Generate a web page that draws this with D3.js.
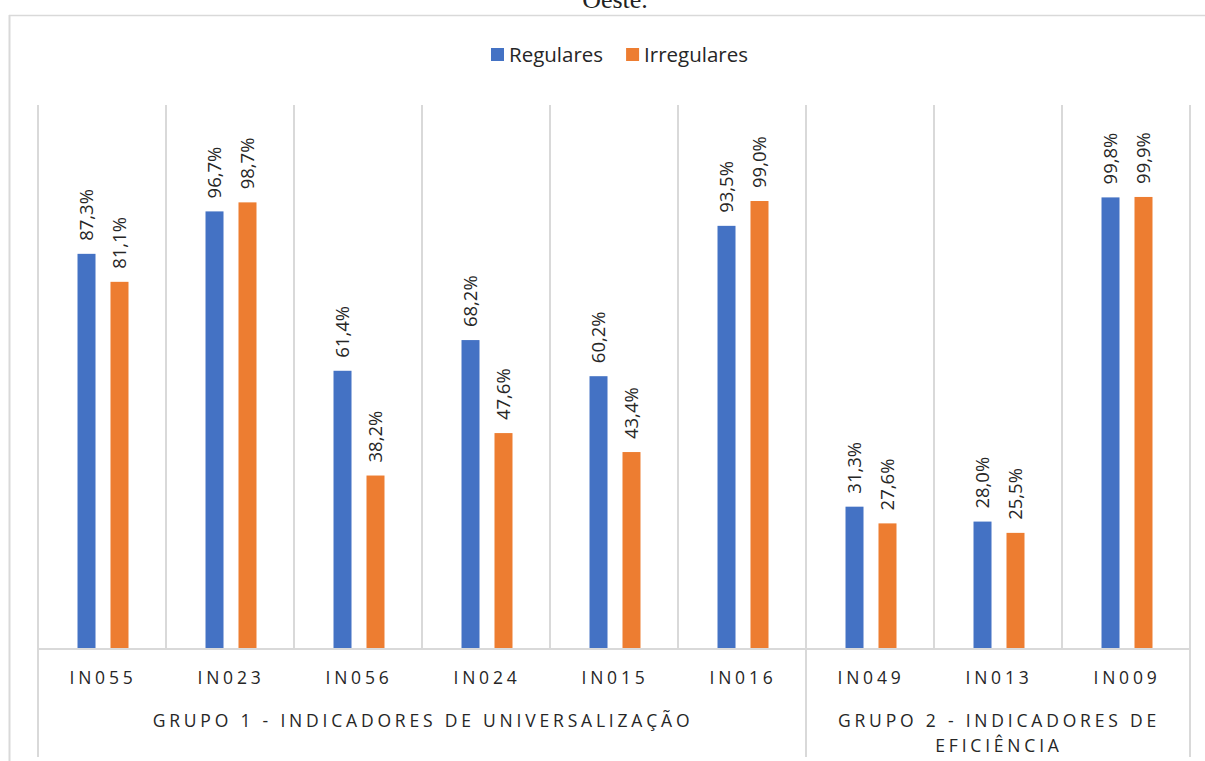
<!DOCTYPE html>
<html lang="pt-BR">
<head>
<meta charset="utf-8">
<title>Indicadores – Regulares x Irregulares</title>
<script src="https://cdn.jsdelivr.net/npm/d3@7/dist/d3.min.js"></script>
<style>
  html, body { margin: 0; padding: 0; background: #fff; }
  svg { display: block; }
</style>
</head>
<body>
<div id="chart"></div>
<script>
// Indicator codes along the category axis
const categories = ['IN055', 'IN023', 'IN056', 'IN024', 'IN015', 'IN016', 'IN049', 'IN013', 'IN009'];

// Series names and values (%)
const seriesNames = ['Regulares', 'Irregulares'];
const regulares   = [87.3, 96.7, 61.4, 68.2, 60.2, 93.5, 31.3, 28.0, 99.8];
const irregulares = [81.1, 98.7, 38.2, 47.6, 43.4, 99.0, 27.6, 25.5, 99.9];

// Category groups: how many indicators each one spans, and its label lines
const groupSizes  = [6, 3];
const groupLabels = [
  ['GRUPO 1 - INDICADORES DE UNIVERSALIZAÇÃO'],
  ['GRUPO 2 - INDICADORES DE', 'EFICIÊNCIA']
];

const captionTail = 'Oeste.';

// ---------------------------------------------------------------------------
const W = 1205, H = 761;
const plot = { left: 39, right: 1191, top: 105, bottom: 648 };
const colors = { Regulares: '#4472C4', Irregulares: '#ED7D31' };
const grid = '#d9d9d9';
const textColor = '#262626';
const uiFont = '"Open Sans", "Noto Sans", sans-serif';

const ptBR = d3.formatLocale({ decimal: ',', thousands: '.', grouping: [3], currency: ['R$', ''] });
const fmt = v => ptBR.format('.1f')(v) + '%';

const rows = categories.map((c, i) => ({ cat: c, Regulares: regulares[i], Irregulares: irregulares[i] }));

const svg = d3.select('#chart').append('svg')
  .attr('width', W).attr('height', H)
  .attr('viewBox', `0 0 ${W} ${H}`);

// caption line above the chart frame (cut by the page top)
svg.append('text')
  .attr('x', 615).attr('y', 8)
  .attr('text-anchor', 'middle')
  .attr('font-family', '"Liberation Serif", "Times New Roman", serif')
  .attr('font-size', 26)
  .attr('fill', '#222')
  .text(captionTail);

// chart frame
svg.append('line').attr('x1', 9).attr('x2', W).attr('y1', 15.5).attr('y2', 15.5)
  .attr('stroke', grid).attr('stroke-width', 1.5);
svg.append('line').attr('x1', 9.5).attr('x2', 9.5).attr('y1', 15).attr('y2', H)
  .attr('stroke', grid).attr('stroke-width', 2);

// scales
const x0 = d3.scaleBand().domain(categories).range([plot.left, plot.right]).padding(0);
const x1 = d3.scaleBand().domain(seriesNames).range([0, x0.bandwidth()])
  .paddingInner(0.4545).paddingOuter(1.167);
const y = d3.scaleLinear().domain([0, 100]).range([plot.bottom, 196.5]);

// vertical gridlines at category boundaries
const boundaries = categories.map(c => x0(c)).concat([plot.right]);
svg.append('g').selectAll('line').data(boundaries).join('line')
  .attr('x1', d => d - 1).attr('x2', d => d - 1)
  .attr('y1', plot.top).attr('y2', plot.bottom)
  .attr('stroke', grid).attr('stroke-width', 2);

// group separators extending below the axis
let acc = 0;
const groupEdges = [0];
groupSizes.forEach(s => { acc += s; groupEdges.push(acc); });
const edgeX = i => (i < categories.length ? x0(categories[i]) : plot.right);
svg.append('g').selectAll('line').data(groupEdges).join('line')
  .attr('x1', d => edgeX(d) - 1).attr('x2', d => edgeX(d) - 1)
  .attr('y1', plot.bottom).attr('y2', 757)
  .attr('stroke', grid).attr('stroke-width', 2);

// bars
const gCat = svg.append('g').selectAll('g').data(rows).join('g')
  .attr('transform', d => `translate(${x0(d.cat)},0)`);

gCat.selectAll('rect').data(d => seriesNames.map(k => ({ key: k, value: d[k] }))).join('rect')
  .attr('x', d => x1(d.key))
  .attr('width', x1.bandwidth())
  .attr('y', d => y(d.value))
  .attr('height', d => y(0) - y(d.value))
  .attr('fill', d => colors[d.key]);

// value labels, rotated, above each bar
gCat.selectAll('text.val').data(d => seriesNames.map(k => ({ key: k, value: d[k] }))).join('text')
  .attr('class', 'val')
  .attr('transform', d => `translate(${x1(d.key) + x1.bandwidth() / 2},${y(d.value) - 13}) rotate(-90)`)
  .attr('dy', '0.36em')
  .attr('text-anchor', 'start')
  .attr('font-family', uiFont)
  .attr('font-size', 18.5)
  .attr('fill', textColor)
  .text(d => fmt(d.value));

// category axis line
svg.append('line')
  .attr('x1', plot.left - 2).attr('x2', plot.right)
  .attr('y1', plot.bottom + 1).attr('y2', plot.bottom + 1)
  .attr('stroke', grid).attr('stroke-width', 2);

// category tick labels
const xAxis = d3.axisBottom(x0).tickSize(0).tickPadding(23.6);
const gx = svg.append('g').attr('transform', `translate(0,${plot.bottom})`).call(xAxis);
gx.select('.domain').remove();
gx.selectAll('text')
  .attr('font-family', uiFont)
  .attr('font-size', 17.5)
  .attr('letter-spacing', 3.8)
  .attr('fill', textColor);

// group labels
const gGroups = svg.append('g');
groupLabels.forEach((lines, gi) => {
  const cx = (edgeX(groupEdges[gi]) + edgeX(groupEdges[gi + 1])) / 2;
  lines.forEach((ln, li) => {
    gGroups.append('text')
      .attr('x', cx).attr('y', 727 + li * 25)
      .attr('text-anchor', 'middle')
      .attr('font-family', uiFont)
      .attr('font-size', 17.5)
      .attr('letter-spacing', 3.8)
      .attr('fill', textColor)
      .text(ln);
  });
});

// legend
const legend = svg.append('g');
const items = legend.selectAll('g').data(seriesNames).join('g');
items.append('rect').attr('width', 13).attr('height', 13).attr('y', 48)
  .attr('fill', d => colors[d]);
items.append('text').attr('x', 18).attr('y', 61.5)
  .attr('font-family', uiFont).attr('font-size', 20.5)
  .attr('fill', textColor)
  .text(d => d);
let lx = 0;
const widths = [];
items.each(function () { widths.push(18 + this.querySelector('text').getComputedTextLength()); });
const total = widths.reduce((a, b) => a + b, 0) + 23 * (widths.length - 1);
lx = 619.5 - total / 2;
items.attr('transform', (d, i) => {
  const t = `translate(${lx},0)`;
  lx += widths[i] + 23;
  return t;
});
</script>
</body>
</html>
